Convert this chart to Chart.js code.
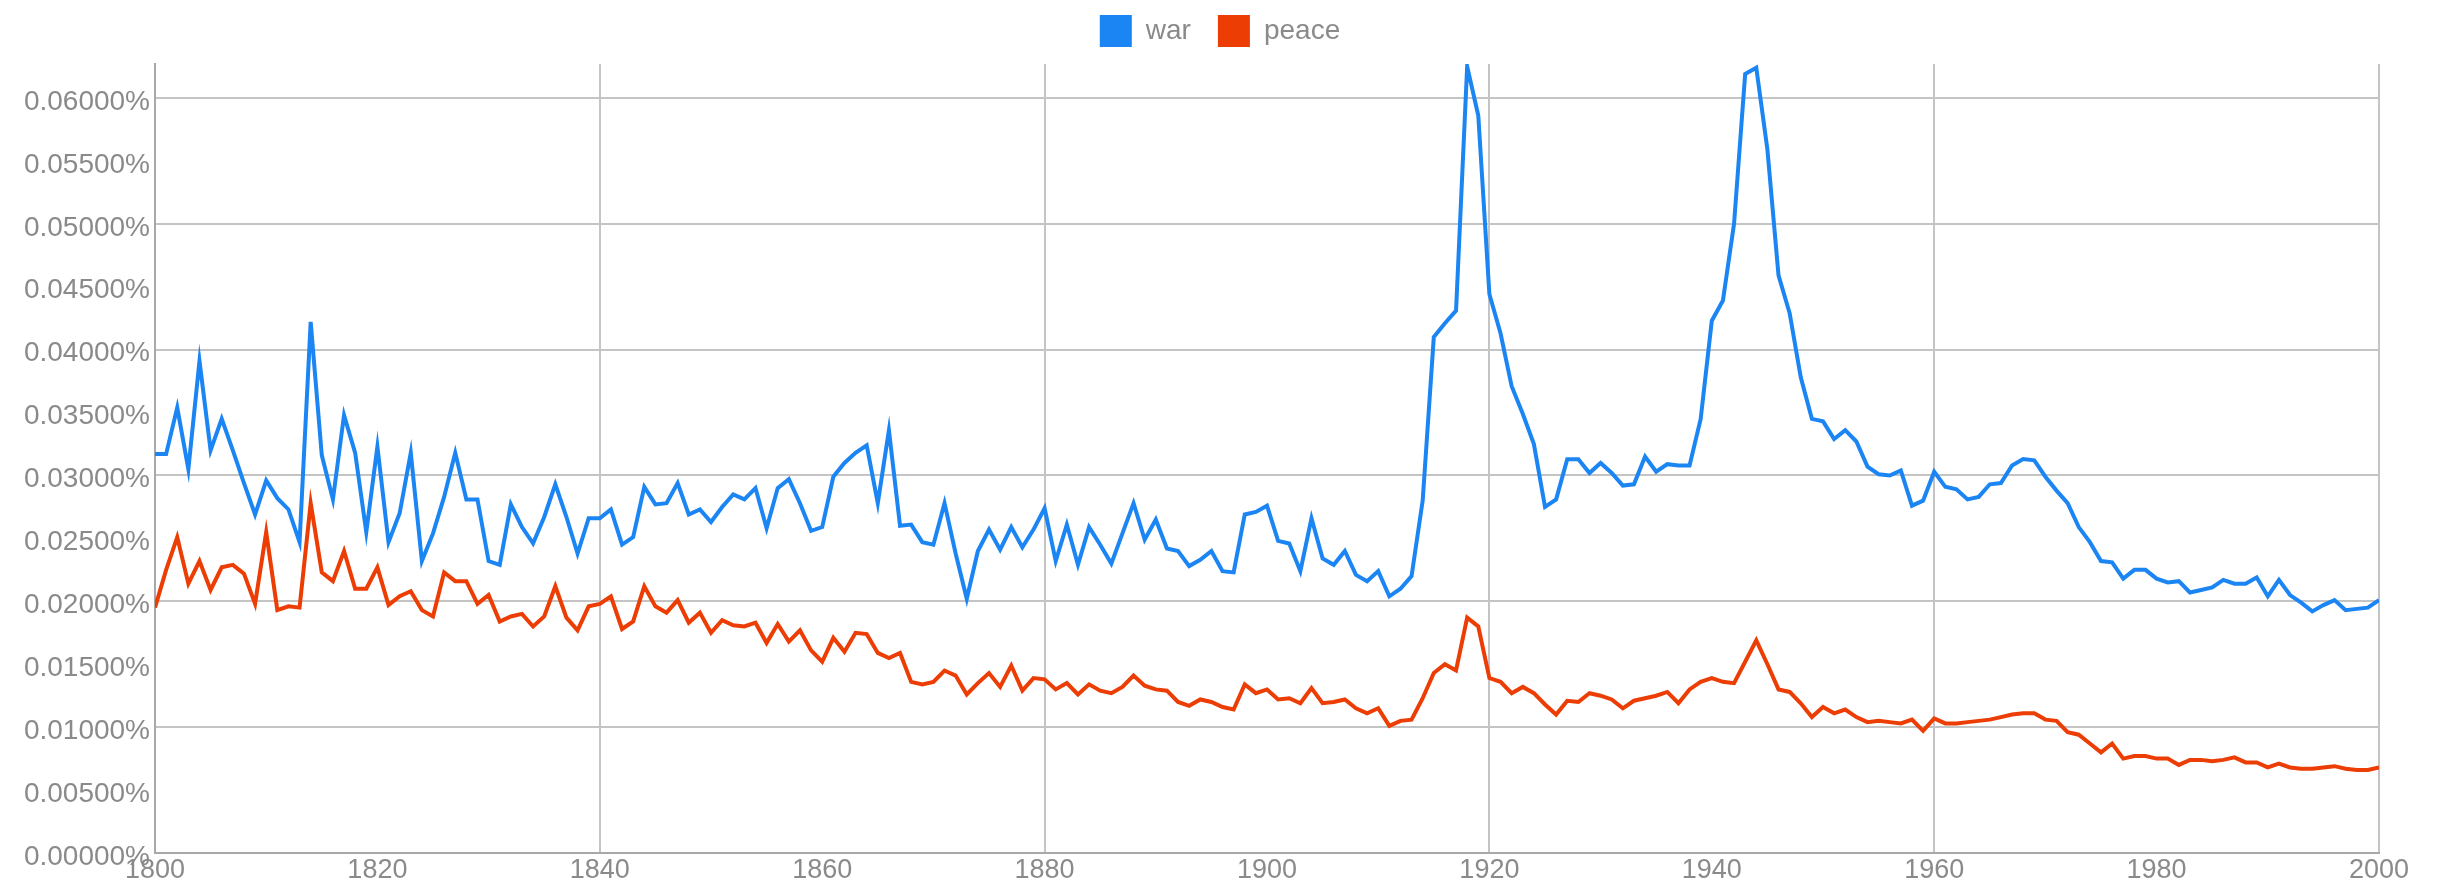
<!DOCTYPE html>
<html>
<head>
<meta charset="utf-8">
<script src="https://cdn.jsdelivr.net/npm/chart.js@4"></script>
<style>html,body{margin:0;padding:0;background:#fff}canvas{display:block}</style>
</head>
<body>
<canvas id="c" width="2440" height="884"></canvas>
<script>
const years = [
  1800,1801,1802,1803,1804,1805,1806,1807,1808,1809,
  1810,1811,1812,1813,1814,1815,1816,1817,1818,1819,
  1820,1821,1822,1823,1824,1825,1826,1827,1828,1829,
  1830,1831,1832,1833,1834,1835,1836,1837,1838,1839,
  1840,1841,1842,1843,1844,1845,1846,1847,1848,1849,
  1850,1851,1852,1853,1854,1855,1856,1857,1858,1859,
  1860,1861,1862,1863,1864,1865,1866,1867,1868,1869,
  1870,1871,1872,1873,1874,1875,1876,1877,1878,1879,
  1880,1881,1882,1883,1884,1885,1886,1887,1888,1889,
  1890,1891,1892,1893,1894,1895,1896,1897,1898,1899,
  1900,1901,1902,1903,1904,1905,1906,1907,1908,1909,
  1910,1911,1912,1913,1914,1915,1916,1917,1918,1919,
  1920,1921,1922,1923,1924,1925,1926,1927,1928,1929,
  1930,1931,1932,1933,1934,1935,1936,1937,1938,1939,
  1940,1941,1942,1943,1944,1945,1946,1947,1948,1949,
  1950,1951,1952,1953,1954,1955,1956,1957,1958,1959,
  1960,1961,1962,1963,1964,1965,1966,1967,1968,1969,
  1970,1971,1972,1973,1974,1975,1976,1977,1978,1979,
  1980,1981,1982,1983,1984,1985,1986,1987,1988,1989,
  1990,1991,1992,1993,1994,1995,1996,1997,1998,1999,
  2000
];

const war = [
  0.0317,0.0317,0.0354,0.0305,0.0391,0.0320,0.0345,0.0320,0.0294,0.0269,
  0.0296,0.0282,0.0273,0.0247,0.0422,0.0316,0.0281,0.0348,0.0318,0.0255,
  0.0323,0.0247,0.0270,0.0318,0.0232,0.0254,0.0283,0.0318,0.0281,0.0281,
  0.0232,0.0229,0.0277,0.0259,0.0246,0.0267,0.0293,0.0267,0.0238,0.0266,
  0.0266,0.0273,0.0245,0.0251,0.0291,0.0277,0.0278,0.0294,0.0269,0.0273,
  0.0263,0.0275,0.0285,0.0281,0.0290,0.0258,0.0290,0.0297,0.0278,0.0256,
  0.0259,0.0299,0.0310,0.0318,0.0324,0.0278,0.0336,0.0260,0.0261,0.0247,
  0.0245,0.0278,0.0238,0.0202,0.0240,0.0257,0.0241,0.0259,0.0243,0.0257,
  0.0274,0.0232,0.0261,0.0229,0.0259,0.0245,0.0230,0.0254,0.0278,0.0249,
  0.0265,0.0242,0.0240,0.0228,0.0233,0.0240,0.0224,0.0223,0.0269,0.0271,
  0.0276,0.0248,0.0246,0.0224,0.0266,0.0234,0.0229,0.0240,0.0221,0.0216,
  0.0224,0.0204,0.0210,0.0220,0.0280,0.0410,0.0421,0.0431,0.0625,0.0586,
  0.0444,0.0413,0.0371,0.0349,0.0325,0.0275,0.0281,0.0313,0.0313,0.0302,
  0.0310,0.0302,0.0292,0.0293,0.0315,0.0303,0.0309,0.0308,0.0308,0.0345,
  0.0423,0.0439,0.0500,0.0619,0.0624,0.0559,0.0459,0.0429,0.0378,0.0345,
  0.0343,0.0329,0.0336,0.0327,0.0307,0.0301,0.0300,0.0304,0.0276,0.0280,
  0.0303,0.0291,0.0289,0.0281,0.0283,0.0293,0.0294,0.0308,0.0313,0.0312,
  0.0299,0.0288,0.0278,0.0259,0.0247,0.0232,0.0231,0.0218,0.0225,0.0225,
  0.0218,0.0215,0.0216,0.0207,0.0209,0.0211,0.0217,0.0214,0.0214,0.0219,
  0.0204,0.0217,0.0205,0.0199,0.0192,0.0197,0.0201,0.0193,0.0194,0.0195,
  0.0201
];

const peace = [
  0.0195,0.0225,0.0251,0.0214,0.0232,0.0209,0.0227,0.0229,0.0222,0.0198,
  0.0255,0.0193,0.0196,0.0195,0.0278,0.0223,0.0216,0.0240,0.0210,0.0210,
  0.0227,0.0197,0.0204,0.0208,0.0193,0.0188,0.0223,0.0216,0.0216,0.0198,
  0.0205,0.0184,0.0188,0.0190,0.0180,0.0188,0.0212,0.0187,0.0177,0.0196,
  0.0198,0.0204,0.0178,0.0184,0.0212,0.0196,0.0191,0.0201,0.0183,0.0191,
  0.0175,0.0185,0.0181,0.0180,0.0183,0.0167,0.0182,0.0168,0.0177,0.0161,
  0.0152,0.0171,0.0160,0.0175,0.0174,0.0159,0.0155,0.0159,0.0136,0.0134,
  0.0136,0.0145,0.0141,0.0126,0.0135,0.0143,0.0132,0.0149,0.0129,0.0139,
  0.0138,0.0130,0.0135,0.0126,0.0134,0.0129,0.0127,0.0132,0.0141,0.0133,
  0.0130,0.0129,0.0120,0.0117,0.0122,0.0120,0.0116,0.0114,0.0134,0.0127,
  0.0130,0.0122,0.0123,0.0119,0.0131,0.0119,0.0120,0.0122,0.0115,0.0111,
  0.0115,0.0101,0.0105,0.0106,0.0123,0.0143,0.0150,0.0145,0.0187,0.0180,
  0.0139,0.0136,0.0127,0.0132,0.0127,0.0118,0.0110,0.0121,0.0120,0.0127,
  0.0125,0.0122,0.0115,0.0121,0.0123,0.0125,0.0128,0.0119,0.0130,0.0136,
  0.0139,0.0136,0.0135,0.0152,0.0169,0.0150,0.0130,0.0128,0.0119,0.0108,
  0.0116,0.0111,0.0114,0.0108,0.0104,0.0105,0.0104,0.0103,0.0106,0.0097,
  0.0107,0.0103,0.0103,0.0104,0.0105,0.0106,0.0108,0.0110,0.0111,0.0111,
  0.0106,0.0105,0.0096,0.0094,0.0087,0.0080,0.0087,0.0075,0.0077,0.0077,
  0.0075,0.0075,0.0070,0.0074,0.0074,0.0073,0.0074,0.0076,0.0072,0.0072,
  0.0068,0.0071,0.0068,0.0067,0.0067,0.0068,0.0069,0.0067,0.0066,0.0066,
  0.0068
];

const seriesNames = ['war', 'peace'];
const xTickYears = [1800,1820,1840,1860,1880,1900,1920,1940,1960,1980,2000];
const xGridYears = [1800,1840,1880,1920,1960,2000];
const yTickValues = [0,0.005,0.01,0.015,0.02,0.025,0.03,0.035,0.04,0.045,0.05,0.055,0.06];
const yGridValues = [0,0.01,0.02,0.03,0.04,0.05,0.06];
const yMax = 0.0627;

const FONT = "'Liberation Sans', Arial, Helvetica, sans-serif";
const TEXT = '#8a8a8a';
const GRID = '#c4c4c4';
const BLUE = 'rgb(27,133,243)';
const RED = 'rgb(236,61,4)';

function near(list, v, eps) { return list.some(g => Math.abs(g - v) < eps); }

const legendSpacer = {
  id: 'legendSpacer',
  beforeInit(chart) {
    const fit = chart.legend.fit;
    chart.legend.fit = function () { fit.call(this); this.height += 7; };
  }
};

new Chart(document.getElementById('c'), {
  type: 'line',
  data: {
    datasets: [
      { label: seriesNames[0], data: years.map((y, i) => ({ x: y, y: war[i] })),
        borderColor: BLUE, backgroundColor: BLUE, borderWidth: 4, pointRadius: 0, tension: 0, fill: false },
      { label: seriesNames[1], data: years.map((y, i) => ({ x: y, y: peace[i] })),
        borderColor: RED, backgroundColor: RED, borderWidth: 4, pointRadius: 0, tension: 0, fill: false }
    ]
  },
  options: {
    responsive: false,
    animation: false,
    devicePixelRatio: 1,
    layout: { padding: { top: -12, left: 0, right: 0, bottom: 0 } },
    plugins: {
      legend: {
        position: 'top',
        labels: {
          boxWidth: 32, boxHeight: 32, padding: 27, color: TEXT,
          font: { family: FONT, size: 28 },
          generateLabels: chart => Chart.defaults.plugins.legend.labels.generateLabels(chart)
            .map(l => Object.assign(l, { lineWidth: 0 }))
        }
      },
      tooltip: { enabled: false }
    },
    scales: {
      x: {
        type: 'linear', min: 1800, max: 2000,
        afterBuildTicks: s => { s.ticks = xTickYears.map(v => ({ value: v })); },
        afterFit: s => { s.height = 31; },
        ticks: { padding: 4, color: TEXT, font: { family: FONT, size: 27, lineHeight: 1 },
                 autoSkip: false, maxRotation: 0, callback: v => String(v) },
        grid: { drawTicks: false, lineWidth: 2,
                color: ctx => (ctx.tick && near(xGridYears, ctx.tick.value, 0.5)) ? GRID : 'rgba(0,0,0,0)' },
        border: { color: '#a8a8a8', width: 2 }
      },
      y: {
        type: 'linear', min: 0, max: yMax,
        afterBuildTicks: s => { s.ticks = yTickValues.map(v => ({ value: v })); },
        afterFit: s => { s.width = 155; },
        ticks: { padding: 5, labelOffset: 4, color: TEXT, font: { family: FONT, size: 28 },
                 autoSkip: false, callback: v => v.toFixed(5) + '%' },
        grid: { drawTicks: false, lineWidth: 2,
                color: ctx => (ctx.tick && near(yGridValues, ctx.tick.value, 0.0001)) ? GRID : 'rgba(0,0,0,0)' },
        border: { color: '#a8a8a8', width: 2 }
      },
      yRight: {
        type: 'linear', position: 'right',
        afterFit: s => { s.width = 61; },
        grid: { display: false }, ticks: { display: false }, border: { display: false }
      }
    }
  },
  plugins: [legendSpacer]
});
</script>
</body>
</html>
